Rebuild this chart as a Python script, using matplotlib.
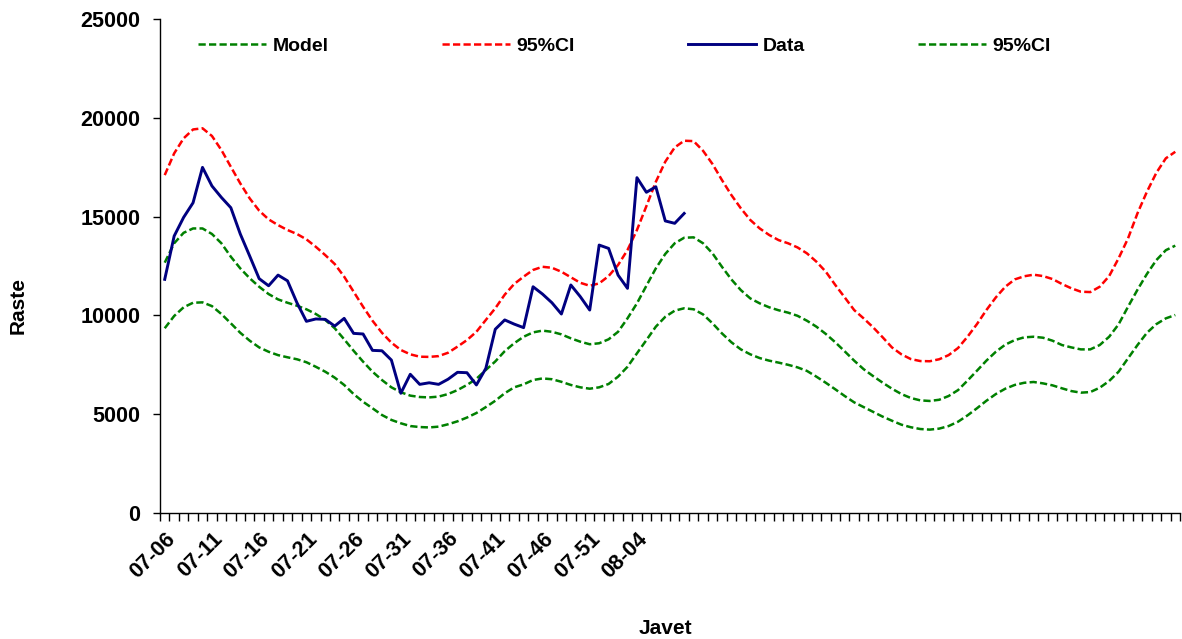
"""Weekly cases vs. seasonal model with 95% CI (Agg)."""
import matplotlib

matplotlib.use("Agg")
import matplotlib.pyplot as plt  # noqa: E402
import numpy as np  # noqa: E402

# weekly observed cases, 07-06 .. 08-09
data = [11825, 14016, 14960, 15700, 17490, 16550, 15970, 15450, 14120, 13000,
        11860, 11500, 12040, 11750, 10640, 9700, 9820, 9800, 9460, 9850,
        9090, 9060, 8230, 8210, 7740, 6060, 7020, 6510, 6590, 6510,
        6770, 7120, 7100, 6480, 7320, 9300, 9770, 9560, 9380, 11450,
        11080, 10640, 10070, 11540, 10950, 10270, 13560, 13390, 12040, 11370,
        16970, 16230, 16510, 14780, 14660, 15160]

model = [12670, 13650, 14180, 14400, 14400, 14120, 13650, 12970, 12380, 11880,
         11450, 11080, 10810, 10640, 10490, 10310, 10070, 9770, 9350, 8790,
         8210, 7660, 7150, 6730, 6360, 6110, 5940, 5870, 5850, 5890,
         6020, 6220, 6480, 6790, 7240, 7670, 8190, 8590, 8920, 9140,
         9230, 9170, 9040, 8840, 8670, 8540, 8590, 8790, 9170, 9850,
         10610, 11500, 12380, 13110, 13650, 13930, 13950, 13650, 13140, 12460,
         11820, 11280, 10860, 10610, 10410, 10260, 10140, 9980, 9730, 9430,
         9060, 8640, 8180, 7710, 7280, 6930, 6600, 6290, 6020, 5820,
         5700, 5670, 5730, 5920, 6220, 6700, 7200, 7710, 8160, 8520,
         8750, 8890, 8920, 8870, 8720, 8500, 8380, 8280, 8280, 8500,
         8920, 9550, 10440, 11300, 12100, 12800, 13300, 13530]

ci_upper = [17100, 18200, 18960, 19410, 19470, 19080, 18370, 17520, 16680, 15920,
            15300, 14860, 14570, 14320, 14120, 13850, 13470, 13050, 12600, 11960,
            11200, 10440, 9730, 9120, 8620, 8250, 8030, 7910, 7900, 7940,
            8110, 8420, 8750, 9170, 9770, 10360, 11050, 11590, 11960, 12300,
            12460, 12410, 12210, 11930, 11650, 11500, 11620, 11990, 12550, 13310,
            14320, 15530, 16760, 17780, 18500, 18840, 18820, 18330, 17660, 16850,
            16090, 15420, 14830, 14400, 14070, 13810, 13650, 13440, 13140, 12720,
            12210, 11540, 10910, 10270, 9850, 9400, 8900, 8380, 8030, 7790,
            7690, 7680, 7780, 7990, 8350, 8920, 9560, 10270, 10910, 11450,
            11820, 11980, 12060, 11990, 11840, 11590, 11370, 11200, 11180, 11450,
            11990, 12890, 13900, 15170, 16260, 17220, 17950, 18280]

ci_lower = [9350, 9970, 10410, 10640, 10660, 10470, 10070, 9600, 9120, 8720,
            8380, 8160, 7990, 7880, 7780, 7630, 7400, 7150, 6850, 6480,
            6020, 5630, 5300, 4960, 4710, 4540, 4400, 4350, 4330, 4370,
            4490, 4640, 4830, 5060, 5360, 5680, 6060, 6360, 6510, 6730,
            6810, 6770, 6640, 6480, 6360, 6290, 6360, 6530, 6900, 7400,
            8080, 8750, 9430, 9930, 10240, 10360, 10310, 10050, 9600, 9090,
            8640, 8280, 8030, 7840, 7710, 7610, 7500, 7370, 7190, 6900,
            6590, 6260, 5920, 5600, 5360, 5120, 4880, 4670, 4470, 4340,
            4250, 4220, 4270, 4400, 4620, 4940, 5300, 5680, 6020, 6290,
            6480, 6590, 6630, 6560, 6460, 6310, 6170, 6090, 6120, 6340,
            6680, 7150, 7830, 8500, 9120, 9560, 9850, 10020]

week_labels = ["07-06", "07-11", "07-16", "07-21", "07-26", "07-31",
               "07-36", "07-41", "07-46", "07-51", "08-04"]
label_idx = [0, 5, 10, 15, 20, 25, 30, 35, 40, 45, 50]

plt.rcParams["font.family"] = ["Liberation Sans", "DejaVu Sans"]
plt.rcParams["font.weight"] = "bold"

GREEN = "#008000"
RED = "#FF0000"
NAVY = "#000080"
DASH = (2.9, 1.3)
TICK_FS = 15.5

fig = plt.figure(figsize=(11.82, 6.39), dpi=100)
ax = fig.add_axes([160 / 1182, 1 - 513 / 639, 1020 / 1182, 494 / 639])

x_all = np.arange(len(model))
x_data = np.arange(len(data))

l_model, = ax.plot(x_all, model, color=GREEN, lw=1.8, dashes=DASH, label="Model")
l_up, = ax.plot(x_all, ci_upper, color=RED, lw=1.8, dashes=DASH, label="95%CI")
l_low, = ax.plot(x_all, ci_lower, color=GREEN, lw=1.8, dashes=DASH, label="95%CI")
l_data, = ax.plot(x_data, data, color=NAVY, lw=2.1, label="Data")

ax.set_xlim(-0.5, len(model) - 0.5)
ax.set_ylim(0, 25000)
ax.set_yticks(np.arange(0, 25001, 5000))
ax.tick_params(axis="y", direction="out", length=5, width=1, pad=9, labelsize=TICK_FS)

# ticks on category boundaries, labels at category centres
ax.set_xticks(np.arange(-0.5, len(model), 1.0))
ax.set_xticklabels([])
ax.tick_params(axis="x", which="major", direction="out", length=6, width=1)
ax.set_xticks(label_idx, minor=True)
ax.set_xticklabels(week_labels, minor=True, rotation=45, ha="right", va="top",
                   rotation_mode="anchor", fontsize=TICK_FS, fontweight="bold")
ax.tick_params(axis="x", which="minor", length=0, pad=11)

for s in ("top", "right"):
    ax.spines[s].set_visible(False)
ax.spines["left"].set_linewidth(1)
ax.spines["bottom"].set_linewidth(1)

ax.set_ylabel("Raste", fontsize=15, fontweight="bold")
ax.yaxis.set_label_coords(-0.130, 0.421)
ax.set_xlabel("Javet", fontsize=15, fontweight="bold")
ax.xaxis.set_label_coords(0.496, -0.2146)

fig.legend([l_model, l_up, l_data, l_low], ["Model", "95%CI", "Data", "95%CI"],
           loc="center left", bbox_to_anchor=(198 / 1182, 1 - 46 / 639),
           ncol=4, frameon=False, fontsize=14, handlelength=3.5,
           handletextpad=0.35, columnspacing=5.8, borderpad=0, borderaxespad=0)

fig.savefig("out.png", dpi=100)
plt.close(fig)
